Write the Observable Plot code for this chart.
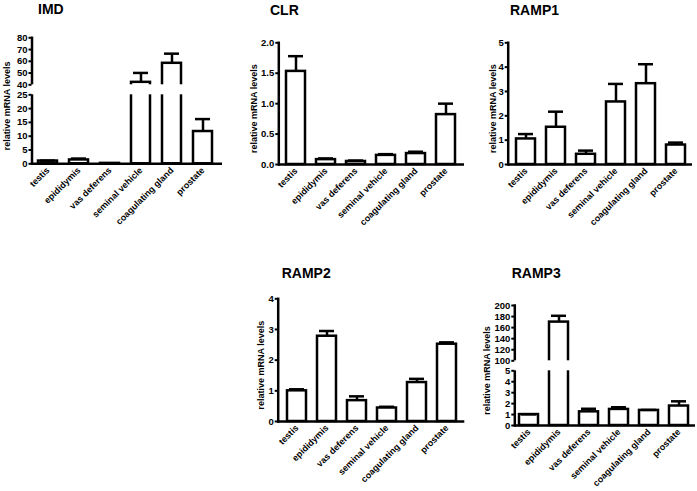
<!DOCTYPE html>
<html><head><meta charset="utf-8">
<script src="https://cdn.jsdelivr.net/npm/d3@7"></script>
<script src="https://cdn.jsdelivr.net/npm/@observablehq/plot@0.6"></script>
<style>
body{margin:0;background:#fff;}
#chart{position:relative;width:697px;height:491px;overflow:hidden;font-family:"Liberation Sans",Arial,sans-serif;background:#fff;}
#chart svg{position:absolute;left:0;top:0;}
.title{position:absolute;font-weight:bold;font-size:14px;line-height:14px;white-space:nowrap;color:#000;}
</style></head><body><div id="chart"></div>
<script>
// ---- data ----
const tissues = ["testis", "epididymis", "vas deferens", "seminal vehicle", "coagulating gland", "prostate"];
const yLabel = "relative mRNA levels";

const imdValues  = [1.0, 1.4, 0.15, 42.1, 58.3, 11.7];
const imdErrors  = [0.15, 0.5, 0.05, 8.0, 8.2, 4.5];
const imdTicks   = [0, 5, 10, 15, 20, 25, 40, 50, 60, 70, 80];

const clrValues  = [1.53, 0.08, 0.05, 0.15, 0.18, 0.82];
const clrErrors  = [0.25, 0.02, 0.015, 0.02, 0.03, 0.18];
const clrTicks   = [0, 0.5, 1.0, 1.5, 2.0];

const ramp1Values = [1.05, 1.53, 0.42, 2.57, 3.32, 0.80];
const ramp1Errors = [0.20, 0.64, 0.15, 0.74, 0.80, 0.10];
const ramp1Ticks  = [0, 1, 2, 3, 4, 5];

const ramp2Values = [1.0, 2.78, 0.68, 0.44, 1.27, 2.52];
const ramp2Errors = [0.05, 0.17, 0.14, 0.04, 0.12, 0.06];
const ramp2Ticks  = [0, 1, 2, 3, 4];

const ramp3Values = [1.0, 170, 1.25, 1.47, 1.38, 1.78];
const ramp3Errors = [0.02, 11.4, 0.28, 0.2, 0.04, 0.43];
const ramp3Ticks  = [0, 1, 2, 3, 4, 5, 100, 120, 140, 160, 180, 200];

// ---- layout ----
const panels = [
  {title: "IMD", values: imdValues, errors: imdErrors, ticks: imdTicks, format: d3.format("d"),
   domain: [0, 25, 40, 80], range: [163.3, 94.3, 84.3, 37.3], gap: [25, 40],
   axisX: 31.5, axisEnd: 222, xRange: [31.6, 218.1], labelOffset: 28, titleX: 38, titleBase: 14},
  {title: "CLR", values: clrValues, errors: clrErrors, ticks: clrTicks, format: d3.format(".1f"),
   domain: [0, 2], range: [164, 42.3],
   axisX: 278.3, axisEnd: 464, xRange: [280.2, 461.3], labelOffset: 28, titleX: 270, titleBase: 15},
  {title: "RAMP1", values: ramp1Values, errors: ramp1Errors, ticks: ramp1Ticks, format: d3.format("d"),
   domain: [0, 5], range: [164, 42.3],
   axisX: 507.7, axisEnd: 692, xRange: [508.9, 692.0], labelOffset: 19, titleX: 510, titleBase: 15},
  {title: "RAMP2", values: ramp2Values, errors: ramp2Errors, ticks: ramp2Ticks, format: d3.format("d"),
   domain: [0, 4], range: [421, 298.3],
   axisX: 277.7, axisEnd: 464.3, xRange: [279.3, 463.7], labelOffset: 20.5, titleX: 281.7, titleBase: 278.3},
  {title: "RAMP3", values: ramp3Values, errors: ramp3Errors, ticks: ramp3Ticks, format: d3.format("d"),
   domain: [0, 5, 100, 200], range: [425, 370.3, 360.3, 305], gap: [5, 100],
   axisX: 514.3, axisEnd: 695, xRange: [513.2, 693.5], labelOffset: 31, titleX: 511.7, titleBase: 278.3}
];

const W = 697, H = 491;
const chart = document.getElementById("chart");

for (const p of panels) {
  const data = tissues.map((t, i) => ({tissue: t, value: p.values[i], top: p.values[i] + p.errors[i]}));
  const top = Math.min(...p.range), bottom = Math.max(...p.range);
  const marks = [
    Plot.frame({anchor: "left", stroke: "black", strokeWidth: 2.5}),
    Plot.barY(data, {x: "tissue", y1: () => 0, y2: "value", fill: "white", stroke: "black", strokeWidth: 2.5}),
    Plot.ruleX(data, {x: "tissue", y1: "value", y2: "top", stroke: "black", strokeWidth: 2.5}),
    Plot.tickY(data, {x: "tissue", y: "top", stroke: "black", strokeWidth: 2.5, insetLeft: 2, insetRight: 2})
  ];
  if (p.gap) {
    marks.push(Plot.rectY([{a: p.gap[0], b: p.gap[1]}], {y1: "a", y2: "b", fill: "white", insetLeft: -4}));
  }
  marks.push(Plot.ruleY([0], {stroke: "black", strokeWidth: 2.5}));
  marks.push(Plot.axisY({ticks: p.ticks, tickFormat: p.format, tickSize: 3, tickPadding: 1.5, strokeWidth: 2,
    fontSize: 9.5, fontWeight: "bold", label: null}));
  marks.push(Plot.text([yLabel], {frameAnchor: "left", rotate: -90, dx: -p.labelOffset, dy: 5,
    textAnchor: "middle", lineAnchor: "top", fontSize: 9, fontWeight: "bold", fill: "black"}));
  marks.push(Plot.axisX({tickRotate: -45, tickSize: 0, tickPadding: 5, fontSize: 9, fontWeight: "bold", label: null}));

  const svg = Plot.plot({
    width: W, height: H,
    marginLeft: p.axisX, marginRight: W - p.axisEnd, marginTop: top, marginBottom: H - bottom,
    x: {type: "band", domain: tissues, range: p.xRange, paddingInner: 0.38, paddingOuter: 0.19, align: 0.5},
    y: {type: "linear", domain: p.domain, range: p.range},
    style: {background: "transparent", fontFamily: "'Liberation Sans', Arial, sans-serif", fontWeight: "bold", overflow: "visible", color: "black"},
    marks
  });
  chart.appendChild(svg);

  const t = document.createElement("div");
  t.className = "title";
  t.textContent = p.title;
  t.style.left = p.titleX + "px";
  t.style.top = (p.titleBase - 11.85) + "px";
  chart.appendChild(t);
}
</script>
</body></html>
